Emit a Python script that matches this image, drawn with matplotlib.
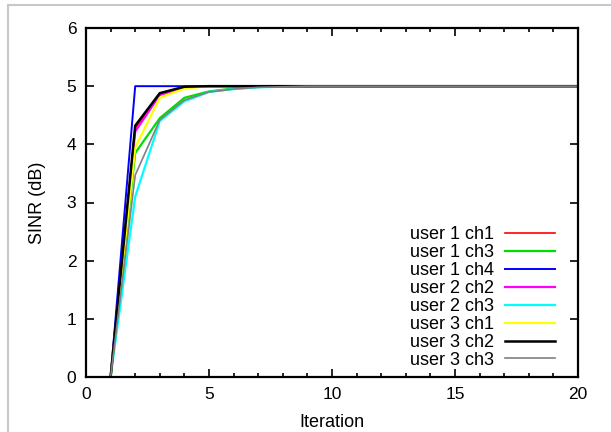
import matplotlib
matplotlib.use('Agg')
import matplotlib.pyplot as plt
from matplotlib.lines import Line2D

plt.rcParams['font.family'] = ['Liberation Sans', 'DejaVu Sans']

iterations = list(range(1, 21))

u1_ch1 = [0, 4.28, 4.85, 4.98, 5.0, 5.0, 5.0, 5.0, 5.0, 5.0, 5.0, 5.0, 5.0, 5.0, 5.0, 5.0, 5.0, 5.0, 5.0, 5.0]
u1_ch3 = [0, 3.85, 4.45, 4.80, 4.91, 4.96, 4.99, 5.0, 5.0, 5.0, 5.0, 5.0, 5.0, 5.0, 5.0, 5.0, 5.0, 5.0, 5.0, 5.0]
u1_ch4 = [0, 5.0, 5.0, 5.0, 5.0, 5.0, 5.0, 5.0, 5.0, 5.0, 5.0, 5.0, 5.0, 5.0, 5.0, 5.0, 5.0, 5.0, 5.0, 5.0]
u2_ch2 = [0, 4.22, 4.85, 4.98, 5.0, 5.0, 5.0, 5.0, 5.0, 5.0, 5.0, 5.0, 5.0, 5.0, 5.0, 5.0, 5.0, 5.0, 5.0, 5.0]
u2_ch3 = [0, 3.10, 4.40, 4.74, 4.90, 4.95, 4.98, 4.99, 5.0, 5.0, 5.0, 5.0, 5.0, 5.0, 5.0, 5.0, 5.0, 5.0, 5.0, 5.0]
u3_ch1 = [0, 3.95, 4.80, 4.96, 5.0, 5.0, 5.0, 5.0, 5.0, 5.0, 5.0, 5.0, 5.0, 5.0, 5.0, 5.0, 5.0, 5.0, 5.0, 5.0]
u3_ch2 = [0, 4.32, 4.88, 4.99, 5.0, 5.0, 5.0, 5.0, 5.0, 5.0, 5.0, 5.0, 5.0, 5.0, 5.0, 5.0, 5.0, 5.0, 5.0, 5.0]
u3_ch3 = [0, 3.47, 4.42, 4.76, 4.90, 4.95, 4.98, 4.99, 5.0, 5.0, 5.0, 5.0, 5.0, 5.0, 5.0, 5.0, 5.0, 5.0, 5.0, 5.0]

labels = ['user 1 ch1', 'user 1 ch3', 'user 1 ch4', 'user 2 ch2',
          'user 2 ch3', 'user 3 ch1', 'user 3 ch2', 'user 3 ch3']
series = [u1_ch1, u1_ch3, u1_ch4, u2_ch2, u2_ch3, u3_ch1, u3_ch2, u3_ch3]
colors = ['#ff0000', '#00dd00', '#0000ff', '#ff00ff', '#00ffff', '#ffff00', '#000000', '#808080']
widths = [1.2, 1.6, 1.4, 1.6, 1.6, 1.6, 1.8, 1.2]

fig = plt.figure(figsize=(6.11, 4.32), dpi=100)
ax = fig.add_axes([86/611, 55/432, 492/611, 349/432])

# gray frame on the figure edge (top and left)
fig.add_artist(Line2D([8/611, 8/611], [0, 1 - 5/432], color='#c8c8c8', lw=1.5))
fig.add_artist(Line2D([8/611, 1], [1 - 5/432, 1 - 5/432], color='#c8c8c8', lw=1.5))

# same drawing order as the legend, the last one ends up on top
for i in range(8):
    ax.plot(iterations, series[i], color=colors[i], lw=widths[i], label=labels[i])

ax.set_xlim(0, 20)
ax.set_ylim(0, 6)
ax.set_xticks([0, 5, 10, 15, 20])
ax.set_xticks(range(0, 21), minor=True)
ax.set_yticks(range(0, 7))
ax.tick_params(which='both', direction='in', top=True, right=True, labelsize=12.5, width=1.2)
ax.tick_params(which='major', length=6, pad=7)
ax.tick_params(which='minor', length=3)
for s in ax.spines.values():
    s.set_linewidth(1.6)

ax.set_xlabel('Iteration', fontsize=13, labelpad=9)
ax.set_ylabel('SINR (dB)', fontsize=13, labelpad=15)

leg = ax.legend(loc='lower right', bbox_to_anchor=(0.9675, 0.003),
                frameon=False, markerfirst=False,
                fontsize=13, handlelength=2.77, labelspacing=0.05,
                handletextpad=0.6, borderaxespad=0.0)

plt.savefig('out.png', dpi=100)
